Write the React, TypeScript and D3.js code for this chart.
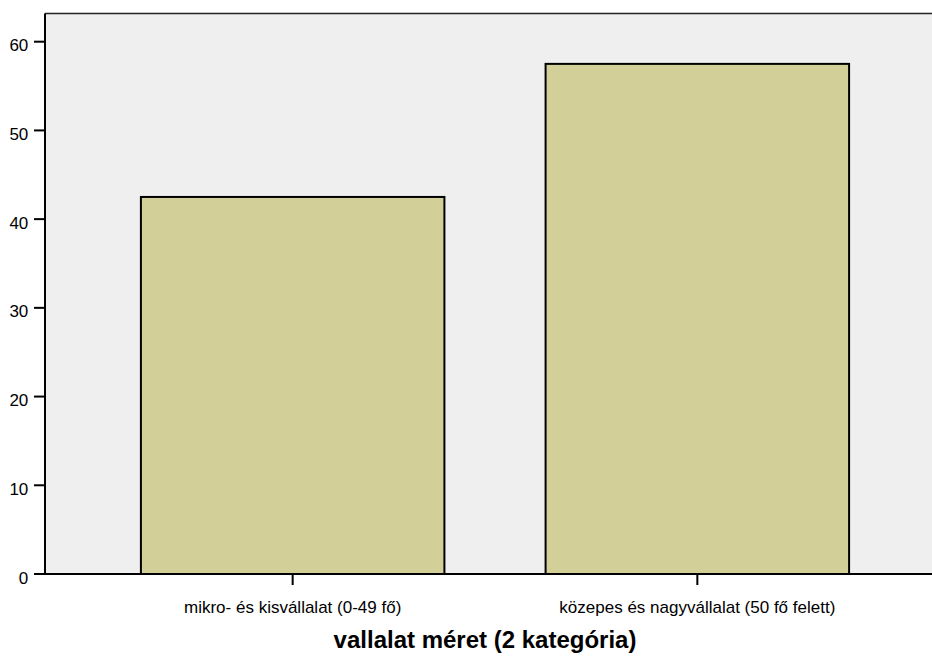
import React from "react";
import * as d3 from "d3";

const categories = ["mikro- és kisvállalat (0-49 fő)", "közepes és nagyvállalat (50 fő felett)"];
const values = [42.5, 57.5];
const yTicks = [0, 10, 20, 30, 40, 50, 60];
const xTitle = "vallalat méret (2 kategória)";

export default function App() {
  const W = 932, H = 657;
  const left = 45, top = 13.5, bottom = 574, right = 945;
  const y = d3.scaleLinear().domain([0, 60]).range([bottom, 41.7]);
  const x = d3.scaleBand<string>().domain(categories).range([left, right]).paddingInner(0.25).paddingOuter(0.237);
  const font = "'Liberation Sans', Arial, sans-serif";
  return (
    <svg width={W} height={H} style={{ position: "absolute", left: 0, top: 0 }}>
      <rect x={0} y={0} width={W} height={H} fill="#ffffff" />
      <rect x={left} y={top} width={W - left} height={bottom - top} fill="#efefef" />
      <line x1={left} x2={W} y1={top} y2={top} stroke="#222" strokeWidth={1.5} />
      {categories.map((c, i) => (
        <rect key={c} x={x(c)} y={y(values[i])} width={x.bandwidth()} height={bottom - y(values[i])}
          fill="#d3cf98" stroke="#000" strokeWidth={2} />
      ))}
      <line x1={left} x2={left} y1={top} y2={bottom} stroke="#000" strokeWidth={2} />
      <line x1={left} x2={W} y1={bottom} y2={bottom} stroke="#000" strokeWidth={2} />
      {yTicks.map((t) => (
        <g key={t}>
          <line x1={34} x2={left} y1={y(t)} y2={y(t)} stroke="#000" strokeWidth={2} />
          <text x={28.3} y={y(t) + 9.6} textAnchor="end" fontFamily={font} fontSize={17} fill="#000">{t}</text>
        </g>
      ))}
      {categories.map((c) => {
        const cx = (x(c) as number) + x.bandwidth() / 2;
        return (
          <g key={c}>
            <line x1={cx} x2={cx} y1={bottom} y2={585} stroke="#000" strokeWidth={2} />
            <text x={cx} y={613} textAnchor="middle" fontFamily={font} fontSize={17} fill="#000">{c}</text>
          </g>
        );
      })}
      <text x={485} y={648} textAnchor="middle" fontFamily={font} fontSize={24} fontWeight="bold" fill="#000">{xTitle}</text>
    </svg>
  );
}
